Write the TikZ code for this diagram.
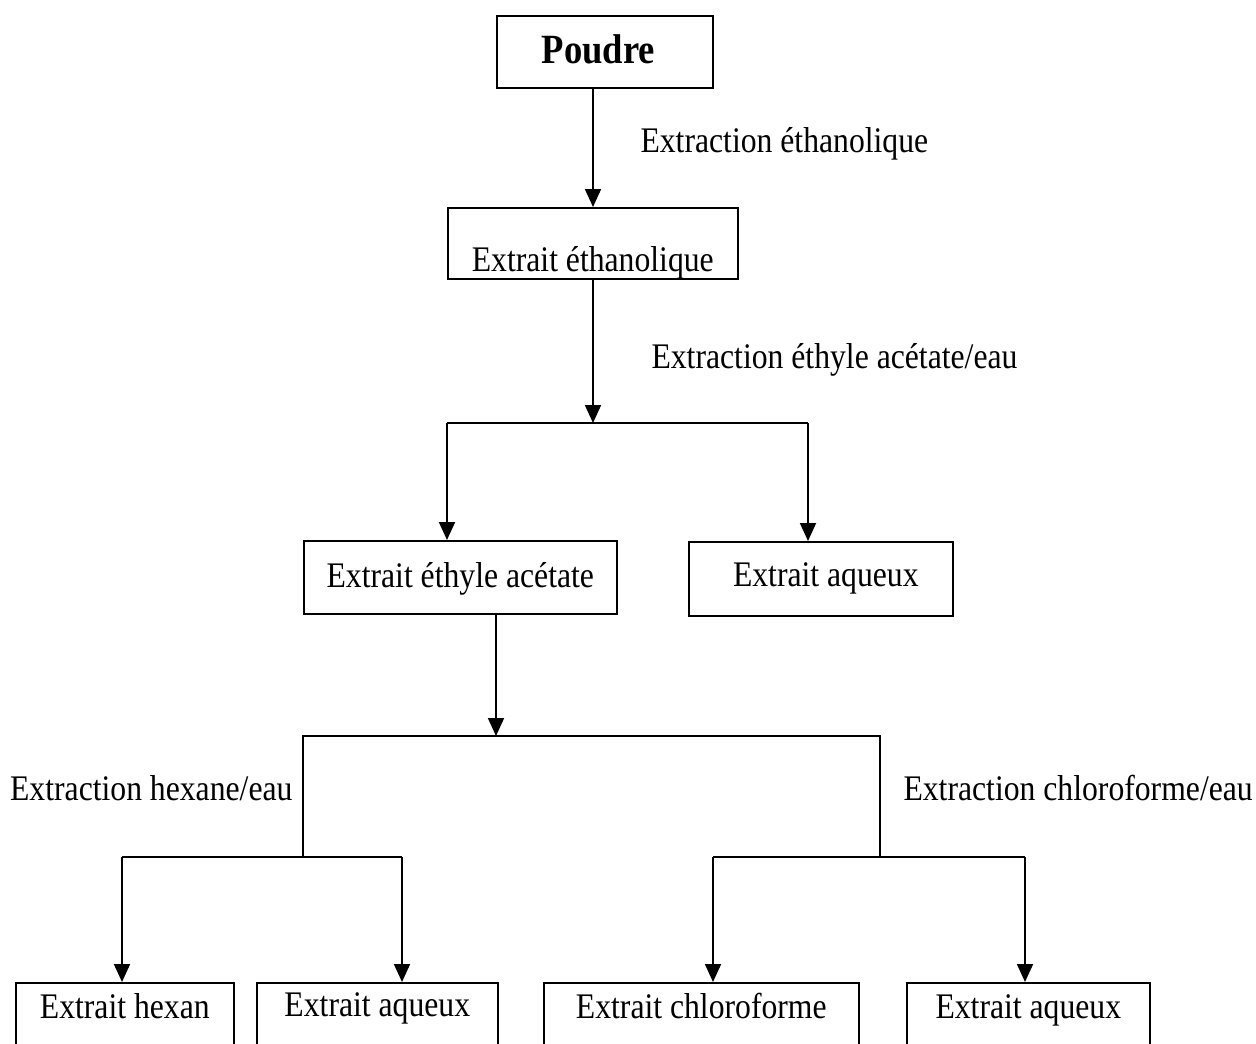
\documentclass[tikz,border=0pt]{standalone}
\usepackage{fontspec}
\setmainfont[FakeStretch=0.88]{Liberation Serif}
\usetikzlibrary{arrows.meta}
\tikzset{
  etape/.style={draw, line width=1.6, inner sep=0, anchor=north west, font=\fontsize{36}{40}\selectfont},
  titre/.style={font=\fontsize{36}{40}\selectfont},
  fleche/.style={line width=1.8, -{Triangle[width=16,length=18]}},
  trait/.style={line width=1.8}
}
\begin{document}
\begin{tikzpicture}[x=1pt, y=-1pt]
    \useasboundingbox (0,0) rectangle (1256,1044); \clip (0,0) rectangle (1256,1044);
    \node[etape, minimum width=216, minimum height=72, text height=48, text depth=24,
      font=\fontsize{41.6}{44}\selectfont\bfseries] (poudre) at (496,15) {Poudre\kern13pt};
    \node[etape, minimum width=290, minimum height=71, text height=64, text depth=7] (ethanol) at (447,207)
      {Extrait éthanolique};
    \node[etape, minimum width=313, minimum height=73, text height=47, text depth=26] (acetate) at (303,540)
      {Extrait éthyle acétate};
    \node[etape, minimum width=264, minimum height=74, text height=45, text depth=29] (aqueuxA) at (688,541)
      {\hspace{10pt}Extrait aqueux};
    \node[etape, minimum width=218, minimum height=100, text height=36, text depth=64] (hexan) at (15,982)
      {Extrait hexan};
    \node[etape, minimum width=241, minimum height=100, text height=34, text depth=66] (aqueuxB) at (256,982)
      {Extrait aqueux};
    \node[etape, minimum width=315, minimum height=100, text height=36, text depth=64] (chloro) at (543,982)
      {Extrait chloroforme};
    \node[etape, minimum width=243, minimum height=100, text height=36, text depth=64] (aqueuxC) at (906,982)
      {Extrait aqueux};
    \node[titre, anchor=base west] (extA) at (637,152) {Extraction éthanolique};
    \node[titre, anchor=base west] (extB) at (648,368) {Extraction éthyle acétate/eau};
    \node[titre, anchor=base east] (extC) at (296,800) {Extraction hexane/eau};
    \node[titre, anchor=base west] (extD) at (900,800) {Extraction chloroforme/eau};
    \coordinate (j1) at (593,423); \coordinate (g1) at (447,423); \coordinate (d1) at (808,423);
    \coordinate (j2) at (496,736); \coordinate (g2) at (303,736); \coordinate (d2) at (880,736);
    \coordinate (g3) at (303,857); \coordinate (d3) at (880,857);
    \coordinate (hA) at (122,857); \coordinate (hB) at (402,857);
    \coordinate (cA) at (713,857); \coordinate (cB) at (1025,857);
    \draw[fleche] (j1 |- poudre.south) -- (j1 |- ethanol.north); \draw[fleche] (j1 |- ethanol.south) -- (j1);
    \draw[trait] (g1) -- (d1); \draw[fleche] (g1) -- (g1 |- acetate.north); \draw[fleche] (d1) -- (d1 |- aqueuxA.north);
    \draw[fleche] (j2 |- acetate.south) -- (j2); \draw[trait] (g3) -- (g2) -- (d2) -- (d3);
    \draw[trait] (hA) -- (hB); \draw[fleche] (hA) -- (hA |- hexan.north); \draw[fleche] (hB) -- (hB |- aqueuxB.north);
    \draw[trait] (cA) -- (cB); \draw[fleche] (cA) -- (cA |- chloro.north); \draw[fleche] (cB) -- (cB |- aqueuxC.north);
  \end{tikzpicture}
\end{document}
